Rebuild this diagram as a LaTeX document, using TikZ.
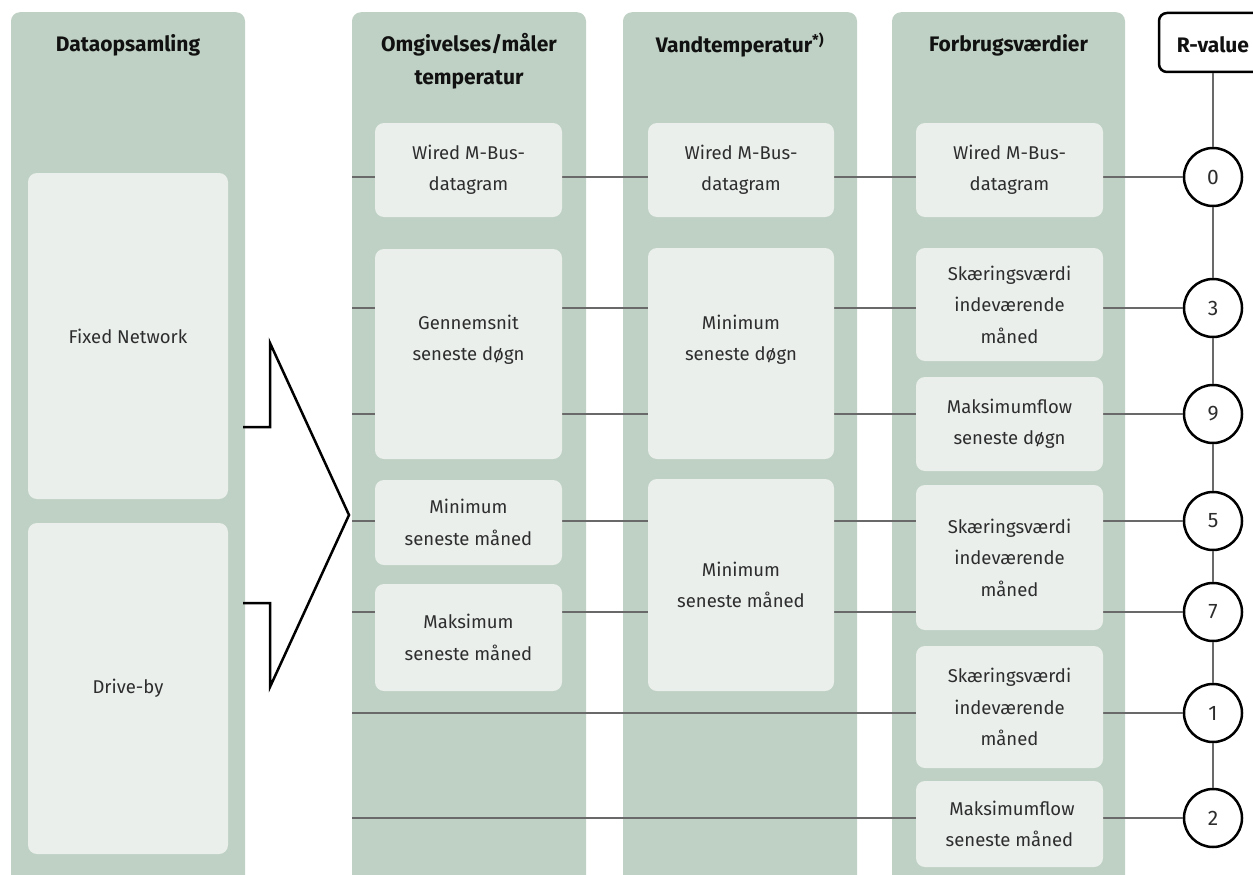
\documentclass[tikz,border=0pt]{standalone}
\usepackage{fontspec}
\setmainfont{Fira Sans}
\definecolor{colgreen}{RGB}{191,209,196}
\definecolor{boxfill}{RGB}{234,239,236}
\definecolor{txtcol}{RGB}{45,45,45}
\definecolor{headcol}{RGB}{17,17,17}
\definecolor{linecol}{RGB}{105,105,105}
\newcommand{\bodyfnt}{\fontsize{18.5}{31.5}\selectfont}
\newcommand{\headfnt}{\fontsize{21}{33}\selectfont\bfseries}
\begin{document}
\begin{tikzpicture}[x=1pt,y=-1pt,
  col/.style={fill=colgreen, rounded corners=9pt, inner sep=0pt, minimum height=900pt, anchor=north},
  ibox/.style={fill=boxfill, rounded corners=9pt, inner sep=0pt, align=center, font=\bodyfnt, text=txtcol},
  txt/.style={inner sep=0pt, align=center, font=\bodyfnt, text=txtcol},
  head/.style={inner sep=0pt, align=center, font=\headfnt, text=headcol},
  rnum/.style={circle, draw=black, line width=2.5pt, fill=white, minimum size=58pt, inner sep=0pt, font=\fontsize{21}{24}\selectfont, text=txtcol},
  conn/.style={draw=linecol, line width=2.8pt},
  bigarrow/.style={draw=black, line width=2.5pt, line join=miter}
]
\clip (0,0) rectangle (1253,875);
\fill[white] (0,0) rectangle (1253,875);

% columns
\node[col, minimum width=234pt] (col1) at (128,12) {};
\node[col, minimum width=234pt] (col2) at (469,12) {};
\node[col, minimum width=234pt] (col3) at (740,12) {};
\node[col, minimum width=233pt] (col4) at (1008.5,12) {};

% headings
\node[head] (h1) at (128,45) {Dataopsamling};
\node[head] (h2) at (469,61.5) {Omgivelses/måler\\temperatur};
\node[head] (h3) at (740,45) {Vandtemperatur\textsuperscript{*)}};
\node[head] (h4) at (1008.5,45) {Forbrugsværdier};

% R-value
\node[draw=black, line width=2.5pt, fill=white, rounded corners=8pt, minimum width=108pt, minimum height=59pt, inner sep=0pt] (rv) at (1213,42.5) {};
\node[head] (rvt) at (1213,45) {R-value};

% circles
\node[rnum] (c0) at (1213,177) {0};
\node[rnum] (c3) at (1213,308) {3};
\node[rnum] (c9) at (1213,414) {9};
\node[rnum] (c5) at (1213,521) {5};
\node[rnum] (c7) at (1213,612) {7};
\node[rnum] (c1) at (1213,713) {1};
\node[rnum] (c2) at (1213,818) {2};

% vertical chain
\draw[conn] (rv.south) -- (c0.north);
\draw[conn] (c0.south) -- (c3.north);
\draw[conn] (c3.south) -- (c9.north);
\draw[conn] (c9.south) -- (c5.north);
\draw[conn] (c5.south) -- (c7.north);
\draw[conn] (c7.south) -- (c1.north);
\draw[conn] (c1.south) -- (c2.north);

% horizontal rows
\coordinate (l0) at (352,177);
\coordinate (l3) at (352,308);
\coordinate (l9) at (352,414);
\coordinate (l5) at (352,521);
\coordinate (l7) at (352,612);
\coordinate (l1) at (352,713);
\coordinate (l2) at (352,818);
\draw[conn] (l0) -- (c0.west);
\draw[conn] (l3) -- (c3.west);
\draw[conn] (l9) -- (c9.west);
\draw[conn] (l5) -- (c5.west);
\draw[conn] (l7) -- (c7.west);
\draw[conn] (l1) -- (c1.west);
\draw[conn] (l2) -- (c2.west);

% column 1 boxes
\node[ibox, minimum width=200pt, minimum height=326pt] (fixed) at (128,336) {Fixed Network};
\node[ibox, minimum width=200pt, minimum height=331pt] (drive) at (128,688.5) {Drive-by};

% column 2 boxes
\node[ibox, minimum width=187pt, minimum height=94pt] (w2) at (468.5,170) {Wired M-Bus-\\datagram};
\node[ibox, minimum width=187pt, minimum height=210pt] (g2) at (468.5,354) {};
\node[txt] (g2t) at (468.5,340) {Gennemsnit\\seneste døgn};
\node[ibox, minimum width=187pt, minimum height=85pt] (mn2) at (468.5,522.5) {Minimum\\seneste måned};
\node[ibox, minimum width=187pt, minimum height=107pt] (mx2) at (468.5,637.5) {Maksimum\\seneste måned};

% column 3 boxes
\node[ibox, minimum width=186pt, minimum height=94pt] (w3) at (741,170) {Wired M-Bus-\\datagram};
\node[ibox, minimum width=186pt, minimum height=211pt] (md3) at (741,353.5) {};
\node[txt] (md3t) at (741,340) {Minimum\\seneste døgn};
\node[ibox, minimum width=186pt, minimum height=212pt] (mm3) at (741,585) {Minimum\\seneste måned};

% column 4 boxes
\node[ibox, minimum width=187pt, minimum height=94pt] (w4) at (1009.5,170) {Wired M-Bus-\\datagram};
\node[ibox, minimum width=187pt, minimum height=113pt] (s3) at (1009.5,304.5) {Skæringsværdi\\indeværende\\måned};
\node[ibox, minimum width=187pt, minimum height=94pt] (fd) at (1009.5,424) {Maksimumflow\\seneste døgn};
\node[ibox, minimum width=187pt, minimum height=145pt] (s57) at (1009.5,557.5) {Skæringsværdi\\indeværende\\måned};
\node[ibox, minimum width=187pt, minimum height=122pt] (s1) at (1009.5,707) {Skæringsværdi\\indeværende\\måned};
\node[ibox, minimum width=187pt, minimum height=86pt] (fm) at (1009.5,824) {\ Maksimumflow\\seneste måned};

% big arrow
\coordinate (a1) at (243,427);
\coordinate (a2) at (243,603);
\draw[bigarrow] (a1) -- (270,427) -- (270,343) -- (349,515) -- (270,687) -- (270,603) -- (a2);
\end{tikzpicture}
\end{document}
